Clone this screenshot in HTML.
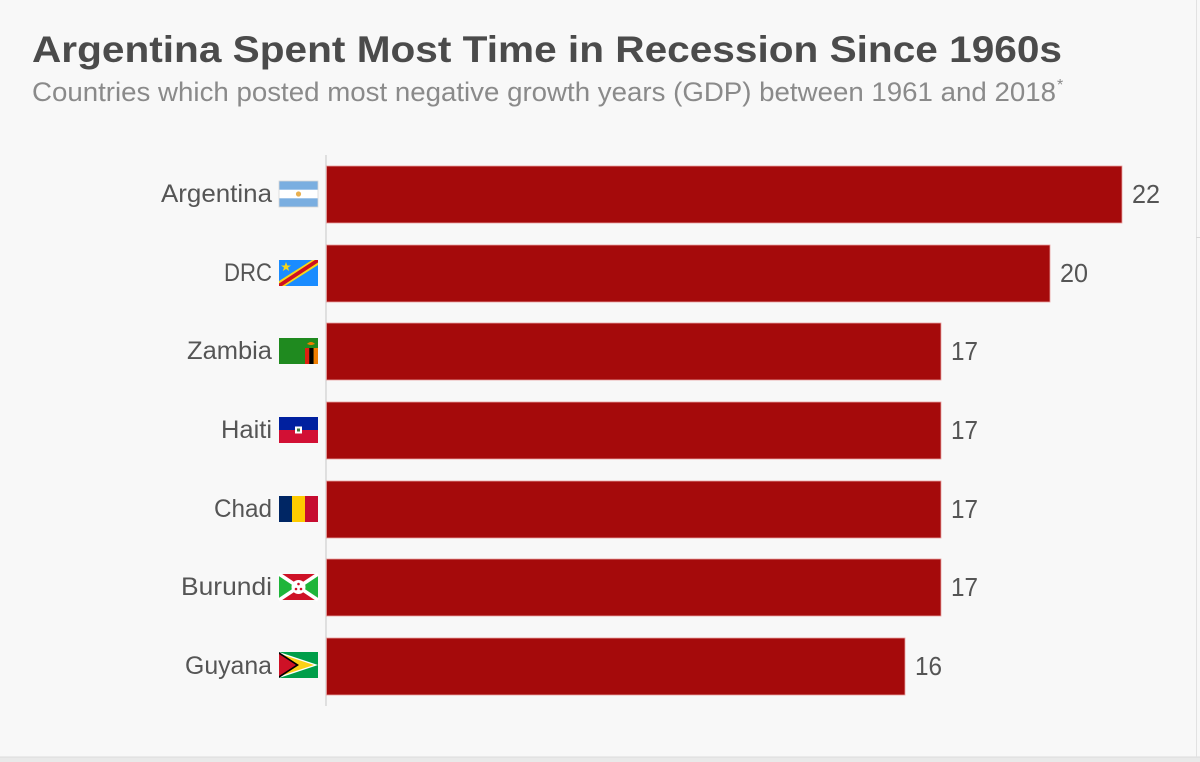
<!DOCTYPE html>
<html>
<head>
<meta charset="utf-8">
<style>
html,body{margin:0;padding:0;background:#f8f8f8;}
svg{display:block;}
text{font-family:"Liberation Sans",Arial,sans-serif;}
</style>
</head>
<body>
<svg width="1200" height="762" viewBox="0 0 1200 762" xmlns="http://www.w3.org/2000/svg">
  <rect x="0" y="0" width="1200" height="762" fill="#f8f8f8"/>
  <rect x="0" y="757" width="1200" height="5" fill="#e9e9e9"/>
  <line x1="0" y1="757" x2="1200" y2="757" stroke="#dcdcdc" stroke-width="1"/>
  <!-- right border line -->
  <line x1="1196.5" y1="0" x2="1196.5" y2="757" stroke="#e2e2e2" stroke-width="1"/>
  <line x1="1196" y1="237.5" x2="1200" y2="237.5" stroke="#d8d8d8" stroke-width="1"/>

  <!-- Title -->
  <text x="32" y="62" font-size="37" font-weight="bold" fill="#4b4b4b" textLength="1030" lengthAdjust="spacingAndGlyphs">Argentina Spent Most Time in Recession Since 1960s</text>
  <text x="32" y="101" font-size="27" fill="#8a8a8a" textLength="1024" lengthAdjust="spacingAndGlyphs">Countries which posted most negative growth years (GDP) between 1961 and 2018</text>
  <text x="1057" y="90" font-size="16" fill="#8a8a8a">*</text>

  <!-- axis -->
  <line x1="326" y1="155" x2="326" y2="706" stroke="#cfcfcf" stroke-width="1.2"/>

  <!-- Bars -->
  <g fill="#a50a0b" stroke="#e8a0a0" stroke-width="0.8">
    <rect x="326.5" y="166" width="795.5" height="57"/>
    <rect x="326.5" y="245" width="723.5" height="57"/>
    <rect x="326.5" y="323" width="614.5" height="57"/>
    <rect x="326.5" y="402" width="614.5" height="57"/>
    <rect x="326.5" y="481" width="614.5" height="57"/>
    <rect x="326.5" y="559" width="614.5" height="57"/>
    <rect x="326.5" y="638" width="578.5" height="57"/>
  </g>

  <!-- Values -->
  <g font-size="26" fill="#555555">
    <text x="1132" y="203" textLength="28" lengthAdjust="spacingAndGlyphs">22</text>
    <text x="1060" y="282" textLength="28" lengthAdjust="spacingAndGlyphs">20</text>
    <text x="951" y="360" textLength="27" lengthAdjust="spacingAndGlyphs">17</text>
    <text x="951" y="439" textLength="27" lengthAdjust="spacingAndGlyphs">17</text>
    <text x="951" y="518" textLength="27" lengthAdjust="spacingAndGlyphs">17</text>
    <text x="951" y="596" textLength="27" lengthAdjust="spacingAndGlyphs">17</text>
    <text x="915" y="675" textLength="27" lengthAdjust="spacingAndGlyphs">16</text>
  </g>

  <!-- Country labels -->
  <g font-size="25" fill="#555555">
    <text x="161" y="202" textLength="111" lengthAdjust="spacingAndGlyphs">Argentina</text>
    <text x="224" y="281" textLength="48" lengthAdjust="spacingAndGlyphs">DRC</text>
    <text x="187" y="359" textLength="85" lengthAdjust="spacingAndGlyphs">Zambia</text>
    <text x="221" y="438" textLength="51" lengthAdjust="spacingAndGlyphs">Haiti</text>
    <text x="214" y="517" textLength="58" lengthAdjust="spacingAndGlyphs">Chad</text>
    <text x="181" y="595" textLength="91" lengthAdjust="spacingAndGlyphs">Burundi</text>
    <text x="185" y="674" textLength="87" lengthAdjust="spacingAndGlyphs">Guyana</text>
  </g>

  <!-- Flags: each 39x26 at x=279 -->
  <!-- Argentina -->
  <g transform="translate(279,181)">
    <rect width="39" height="26" fill="#fff"/>
    <rect width="39" height="8.7" fill="#7aaee0"/>
    <rect y="17.3" width="39" height="8.7" fill="#7aaee0"/>
    <circle cx="19.5" cy="13" r="2.6" fill="#e9b050"/>
    <rect width="39" height="26" fill="none" stroke="#d8d8d8" stroke-width="0.8"/>
  </g>
  <!-- DRC -->
  <g transform="translate(279,260)">
    <rect width="39" height="26" fill="#1a8cff"/>
    <polygon points="0,21 33,0 39,0 39,5 6,26 0,26" fill="#f7d618"/>
    <polygon points="0,23.5 36,0 39,0 39,2.5 3,26 0,26" fill="#ce1021"/>
    <polygon points="7,2 8.3,5.5 12,5.5 9,7.6 10.2,11 7,9 3.8,11 5,7.6 2,5.5 5.7,5.5" fill="#f7d618"/>
  </g>
  <!-- Zambia -->
  <g transform="translate(279,338)">
    <rect width="39" height="26" fill="#1f8a1f"/>
    <rect x="26" y="10" width="4.3" height="16" fill="#de2010"/>
    <rect x="30.3" y="10" width="4.3" height="16" fill="#000"/>
    <rect x="34.6" y="10" width="4.4" height="16" fill="#ef7d00"/>
    <path d="M28,6 Q32,2 36,6 L33,7 L31,7 Z" fill="#ef7d00"/>
  </g>
  <!-- Haiti -->
  <g transform="translate(279,417)">
    <rect width="39" height="13" fill="#00209f"/>
    <rect y="13" width="39" height="13" fill="#d21034"/>
    <rect x="16" y="9.5" width="7" height="7" fill="#fff"/>
    <rect x="18" y="11.5" width="3" height="3" fill="#3a7a3a"/>
  </g>
  <!-- Chad -->
  <g transform="translate(279,496)">
    <rect width="13" height="26" fill="#002664"/>
    <rect x="13" width="13" height="26" fill="#fecb00"/>
    <rect x="26" width="13" height="26" fill="#c60c30"/>
  </g>
  <!-- Burundi -->
  <g transform="translate(279,574)">
    <rect width="39" height="26" fill="#ce1126"/>
    <polygon points="0,0 19.5,13 0,26" fill="#1eb53a"/>
    <polygon points="39,0 19.5,13 39,26" fill="#1eb53a"/>
    <line x1="0" y1="0" x2="39" y2="26" stroke="#fff" stroke-width="3.5"/>
    <line x1="39" y1="0" x2="0" y2="26" stroke="#fff" stroke-width="3.5"/>
    <circle cx="19.5" cy="13" r="7" fill="#fff"/>
    <circle cx="19.5" cy="10" r="1.3" fill="#ce1126"/>
    <circle cx="17" cy="15" r="1.3" fill="#ce1126"/>
    <circle cx="22" cy="15" r="1.3" fill="#ce1126"/>
  </g>
  <!-- Guyana -->
  <g transform="translate(279,652)">
    <rect width="39" height="26" fill="#009e49"/>
    <polygon points="0,0 39,13 0,26" fill="#fff"/>
    <polygon points="0,1.5 35,13 0,24.5" fill="#fcd116"/>
    <polygon points="0,0 20,13 0,26" fill="#000"/>
    <polygon points="0,2 17,13 0,24" fill="#ce1126"/>
  </g>
</svg>
</body>
</html>
